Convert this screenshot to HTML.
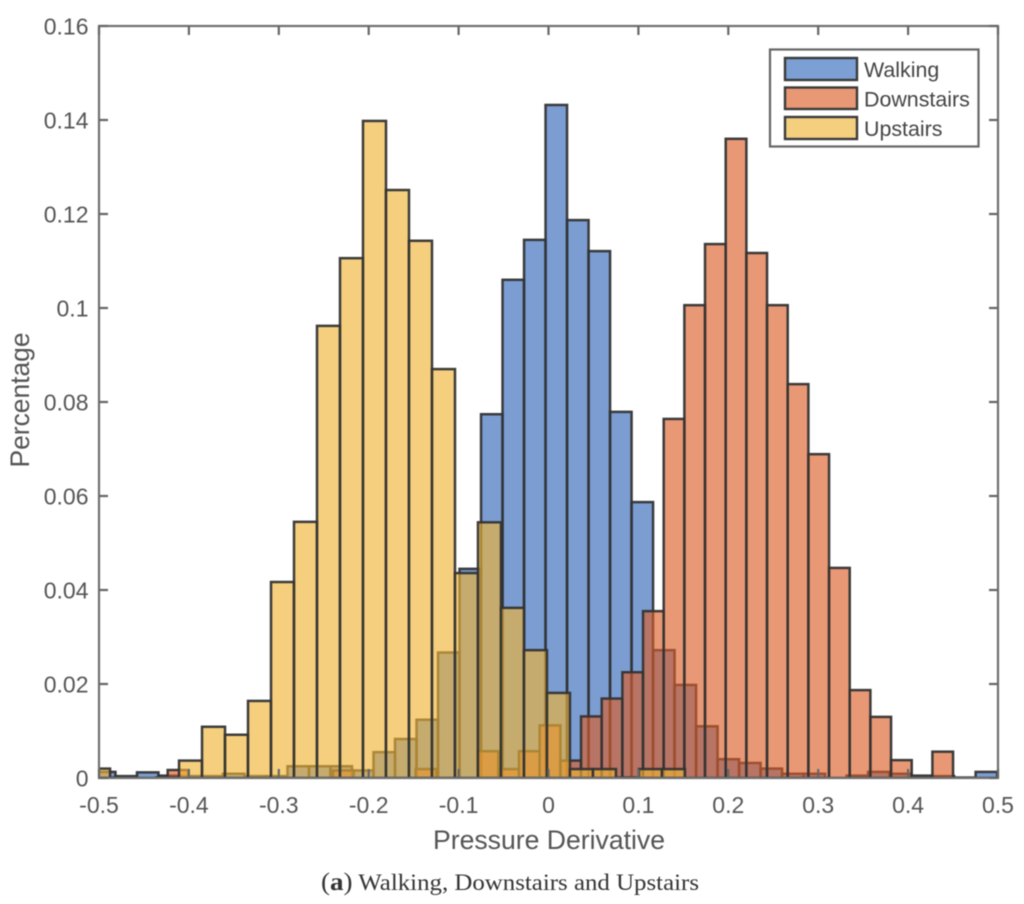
<!DOCTYPE html>
<html lang="en">
<head>
<meta charset="utf-8">
<title>Pressure Derivative Histogram</title>
<style>
html,body{margin:0;padding:0;background:#fff;width:1024px;height:904px;overflow:hidden}
svg{display:block;font-family:"Liberation Sans",Arial,sans-serif;filter:blur(0.4px)}
</style>
</head>
<body>
<svg id="chart" xmlns="http://www.w3.org/2000/svg" width="1024" height="904" viewBox="0 0 1024 904">
  <defs><clipPath id="plot-clip"><rect x="99" y="26" width="899" height="752"></rect></clipPath></defs>
  <rect x="99" y="26" width="899" height="752" fill="#fff"></rect>
  <g id="bars" clip-path="url(#plot-clip)"></g>
  <g id="axes"></g>
  <text x="549" y="849" text-anchor="middle" font-size="26.6" fill="#555">Pressure Derivative</text>
  <text transform="translate(29,400) rotate(-90)" text-anchor="middle" font-size="26.4" fill="#555">Percentage</text>
  <g>
    <rect x="770" y="49.5" width="208.5" height="97" fill="#fff" stroke="#666" stroke-width="2.2"></rect>
    <rect x="785" y="58" width="72" height="22" fill="#7C9FD4" stroke="#3a3a3a" stroke-width="2.4"></rect>
    <text x="864" y="77" font-size="21.4" fill="#444">Walking</text>
    <rect x="785" y="87.5" width="72" height="21.5" fill="#E89875" stroke="#3a3a3a" stroke-width="2.4"></rect>
    <text x="864" y="106.5" font-size="21.4" fill="#444">Downstairs</text>
    <rect x="785" y="117" width="72" height="22" fill="#F4CF7E" stroke="#3a3a3a" stroke-width="2.4"></rect>
    <text x="864" y="136" font-size="21.4" fill="#444">Upstairs</text>
  </g>
  <text x="321" y="890" font-family="'Liberation Serif',serif" font-size="23" fill="#333" textLength="378" lengthAdjust="spacingAndGlyphs"><tspan font-size="25">(</tspan><tspan font-weight="bold" font-size="25">a</tspan><tspan font-size="25">)</tspan> Walking, Downstairs and Upstairs</text>
</svg>
<script>
const xTicks = [-0.5,-0.4,-0.3,-0.2,-0.1,0,0.1,0.2,0.3,0.4,0.5];
const yTicks = [0,0.02,0.04,0.06,0.08,0.1,0.12,0.14,0.16];
const xTickLabels = ["-0.5","-0.4","-0.3","-0.2","-0.1","0","0.1","0.2","0.3","0.4","0.5"];
const yTickLabels = ["0","0.02","0.04","0.06","0.08","0.1","0.12","0.14","0.16"];

const walkingStart = -0.5056;
const walkingWidth = 0.02392;
const walkingValues = [.0013,.0004,.0012,.0005,.0004,.0004,.0009,.0004,.0004,.0025,.0025,.0025,.0016,.0055,.0083,.0124,.0267,.0445,.0774,.106,.1145,.1432,.1187,.1121,.0779,.0587,.0272,.0198,.011,.004,.0032,.002,.0009,.0009,0,.0005,.0013,.0009,0,.0004,0,.0013];

const downstairsStart = -0.4466;
const downstairsWidth = 0.02299;
const downstairsValues = [0,.0017,0,0,0,0,0,0,0,.0016,0,0,0,.0019,0,0,.0057,.0019,.0057,.0112,.0037,.0131,.0169,.0225,.0355,.0764,.1006,.1136,.136,.1117,.1006,.0838,.0689,.0447,.0187,.013,.0038,.0005,.0056,.0001];

const upstairsStart = -0.5133;
const upstairsWidth = 0.02558;
const upstairsValues = [.002,.0001,0,.0001,.0037,.0109,.0092,.0164,.0417,.0545,.0962,.1106,.1398,.1251,.1143,.087,.0436,.0544,.0362,.0272,.0181,.0019,.0019,.0001,.0019,.0019];

const NS = "http://www.w3.org/2000/svg";
const xScale = v => 99 + (v + 0.5) * 899;
const yScale = v => 778 - (v / 0.16) * 752;

function drawSeries(name, color, start, width, values) {
  const group = document.createElementNS(NS, "g");
  
  
  values.forEach((v, i) => {
    const x0 = xScale(start + i * width);
    const x1 = xScale(start + (i + 1) * width);
    const r = document.createElementNS(NS, "rect");
    
    
    r.setAttribute("x", x0);
    r.setAttribute("y", yScale(v));
    r.setAttribute("width", x1 - x0);
    r.setAttribute("height", yScale(0) - yScale(v));
    r.setAttribute("fill", color);
    r.setAttribute("fill-opacity", "0.635");
    r.setAttribute("stroke", "#333");
    r.setAttribute("stroke-opacity", "0.95");
    r.setAttribute("stroke-width", "2.5");
    group.appendChild(r);
  });
  document.getElementById("bars").appendChild(group);
}

drawSeries("walking", "#2F64B8", walkingStart, walkingWidth, walkingValues);
drawSeries("downstairs", "#DB5D26", downstairsStart, downstairsWidth, downstairsValues);
drawSeries("upstairs", "#EFB334", upstairsStart, upstairsWidth, upstairsValues);

const axes = document.getElementById("axes");
function addLine(name, x1, y1, x2, y2) {
  const l = document.createElementNS(NS, "line");
  
  
  l.setAttribute("x1", x1);
  l.setAttribute("y1", y1);
  l.setAttribute("x2", x2);
  l.setAttribute("y2", y2);
  l.setAttribute("stroke", "#666");
  l.setAttribute("stroke-width", "2.2");
  axes.appendChild(l);
}
function addLabel(name, text, x, y, anchor) {
  const t = document.createElementNS(NS, "text");
  
  
  t.setAttribute("x", x);
  t.setAttribute("y", y);
  t.setAttribute("text-anchor", anchor);
  t.setAttribute("font-size", "23");
  t.setAttribute("fill", "#555");
  t.textContent = text;
  axes.appendChild(t);
}

const box = document.createElementNS(NS, "rect");


box.setAttribute("x", 99);
box.setAttribute("y", 26);
box.setAttribute("width", 899);
box.setAttribute("height", 752);
box.setAttribute("fill", "none");
box.setAttribute("stroke", "#707070");
box.setAttribute("stroke-width", "2.2");
axes.appendChild(box);

xTicks.forEach((v, i) => {
  const x = xScale(v);
  addLine('x-tick-bottom', x, 778, x, 769);
  addLine('x-tick-top', x, 26, x, 35);
  addLabel('x-tick-label', xTickLabels[i], x, 813, "middle");
});
yTicks.forEach((v, i) => {
  const y = yScale(v);
  addLine('y-tick-left', 99, y, 108, y);
  addLine('y-tick-right', 998, y, 989, y);
  addLabel('y-tick-label', yTickLabels[i], 88.5, y + 8.5, "end");
});
</script>
</body>
</html>
